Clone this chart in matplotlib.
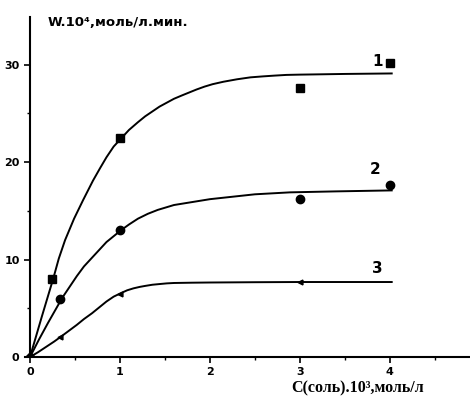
import matplotlib
matplotlib.use("Agg")
import matplotlib.pyplot as plt
from matplotlib.ticker import MultipleLocator

# Experimental points
x1_pts = [0.25, 1.0, 3.0, 4.0]
y1_pts = [8.0, 22.5, 27.6, 30.2]
x2_pts = [0.33, 1.0, 3.0, 4.0]
y2_pts = [6.0, 13.0, 16.2, 17.7]
x3_pts = [0.33, 1.0, 3.0]
y3_pts = [2.1, 6.5, 7.7]

# Fitted curves
x1_curve = [0, 0.13, 0.26, 0.32, 0.39, 0.49, 0.59, 0.70, 0.78, 0.85, 0.93, 1.02, 1.10, 1.20, 1.28, 1.36,
            1.44, 1.52, 1.60, 1.69, 1.77, 1.85, 1.94, 2.03, 2.15, 2.30, 2.45, 2.59, 2.72, 2.85, 3.0, 3.15, 3.50, 4.02]
y1_curve = [0, 4.1, 8.1, 10.1, 12.0, 14.2, 16.1, 18.1, 19.4, 20.5, 21.6, 22.5, 23.3, 24.1, 24.7, 25.2,
            25.7, 26.1, 26.5, 26.85, 27.15, 27.45, 27.75, 28.0, 28.25, 28.5, 28.7, 28.8, 28.88, 28.95, 28.98, 29.0, 29.05, 29.1]
x2_curve = [0, 0.10, 0.20, 0.28, 0.36, 0.44, 0.52, 0.60, 0.69, 0.77, 0.85, 0.93, 1.01, 1.10, 1.20, 1.31,
            1.42, 1.51, 1.60, 1.70, 1.80, 1.90, 2.00, 2.20, 2.50, 2.89, 3.40, 4.02]
y2_curve = [0, 1.8, 3.5, 4.8, 6.1, 7.2, 8.3, 9.3, 10.2, 11.0, 11.8, 12.4, 13.0, 13.6, 14.2, 14.7,
            15.1, 15.35, 15.6, 15.75, 15.9, 16.05, 16.2, 16.4, 16.7, 16.9, 17.0, 17.1]
x3_curve = [0, 0.09, 0.18, 0.27, 0.36, 0.44, 0.52, 0.60, 0.69, 0.77, 0.85, 0.93, 1.02, 1.08, 1.15, 1.22,
            1.28, 1.36, 1.45, 1.52, 1.60, 1.80, 2.00, 2.50, 3.00, 4.02]
y3_curve = [0, 0.5, 1.05, 1.6, 2.2, 2.75, 3.3, 3.9, 4.5, 5.1, 5.7, 6.2, 6.6, 6.85, 7.05, 7.2,
            7.3, 7.42, 7.5, 7.56, 7.6, 7.63, 7.65, 7.68, 7.7, 7.7]

x_ticks = [0, 1, 2, 3, 4]
y_ticks = [0, 10, 20, 30]

fig = plt.figure(figsize=(4.7, 4.03), dpi=100)
ax = fig.add_axes([0.0523, 0.114, 0.9477, 0.844])
ax.set_xlim(-0.06, 4.89)
ax.set_ylim(0, 34.9)

lw = 1.4
for xc, yc in [(x1_curve, y1_curve), (x2_curve, y2_curve), (x3_curve, y3_curve)]:
    ax.plot(xc, yc, color="black", lw=lw, solid_joinstyle="round")
ax.plot(x1_pts, y1_pts, "s", color="black", ms=5.5)
ax.plot(x2_pts, y2_pts, "o", color="black", ms=6)
ax.plot(x3_pts, y3_pts, "<", color="black", ms=3.5)
ax.plot([0], [0], "D", color="black", ms=5)

for name, x, y in [("1", 3.92, 30.3), ("2", 3.9, 19.2), ("3", 3.92, 9.1)]:
    ax.text(x, y, name, fontsize=11, fontweight="bold", ha="right", va="center",
            family="DejaVu Sans")

for s in ["top", "right"]:
    ax.spines[s].set_visible(False)
ax.spines["left"].set_position(("data", 0))
ax.spines["left"].set_linewidth(1.5)
ax.spines["bottom"].set_linewidth(1.5)

ax.set_xticks(x_ticks)
ax.set_yticks(y_ticks)
ax.xaxis.set_minor_locator(MultipleLocator(0.5))
ax.yaxis.set_minor_locator(MultipleLocator(5))
ax.tick_params(axis="both", which="major", direction="out", length=4, width=1.2,
               labelsize=8)
ax.tick_params(axis="both", which="minor", direction="out", length=2.5, width=1)
for lab in ax.get_xticklabels() + ax.get_yticklabels():
    lab.set_fontweight("bold")
    lab.set_family("DejaVu Sans")

fig.text(48 / 470, 1 - 22 / 403, "W.10⁴,моль/л.мин.", fontsize=9.5, fontweight="bold",
         ha="left", va="center", family=["DejaVu Sans"])
fig.text(358 / 470, 1 - 388 / 403, "C(соль).10³,моль/л", fontsize=11.5, fontweight="bold",
         ha="center", va="center", family=["Liberation Serif", "DejaVu Serif"])

fig.savefig("out.png", dpi=100)
